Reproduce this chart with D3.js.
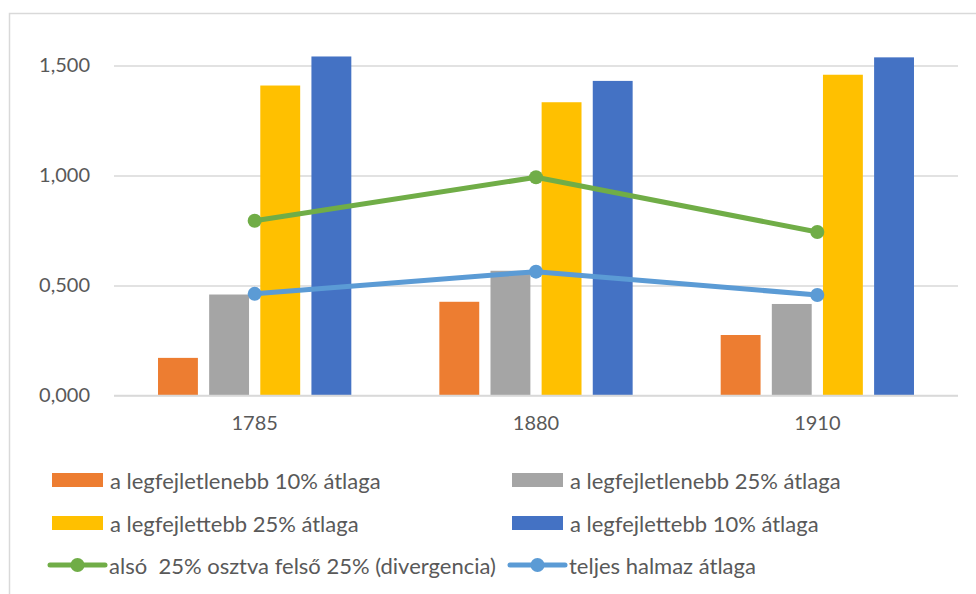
<!DOCTYPE html>
<html>
<head>
<meta charset="utf-8">
<script src="https://cdn.jsdelivr.net/npm/d3@7"></script>
<style>
  html, body { margin: 0; padding: 0; background: #fff; }
  svg { display: block; font-family: Lato, "Open Sans", sans-serif; }
  .legend text { white-space: pre; }
</style>
</head>
<body>
<svg id="chart" width="976" height="594"></svg>
<script>
// Categories (years)
const years = ["1785", "1880", "1910"];

// Bar series
const barNames = [
  "a legfejletlenebb 10% átlaga",
  "a legfejletlenebb 25% átlaga",
  "a legfejlettebb 25% átlaga",
  "a legfejlettebb 10% átlaga"
];
const bottom10 = [0.171, 0.426, 0.275];
const bottom25 = [0.459, 0.567, 0.416];
const top25    = [1.409, 1.333, 1.458];
const top10    = [1.541, 1.430, 1.537];
const barColors = ["#ED7D31", "#A5A5A5", "#FFC000", "#4472C4"];

// Line series
const lineNames = [
  "alsó  25% osztva felső 25% (divergencia)",
  "teljes halmaz átlaga"
];
const divergence = [0.794, 0.992, 0.743];
const overallAvg = [0.462, 0.563, 0.457];
const lineColors = ["#70AD47", "#5B9BD5"];

// Y axis ticks
const yTicks = [0, 0.5, 1.0, 1.5];

const barValues = [bottom10, bottom25, top25, top10];
const lineValues = [divergence, overallAvg];

const svg = d3.select("#chart");
const plot = { left: 114, right: 958, top: 65.5, bottom: 395.5 };
const textColor = "#595959";
const gridColor = "#D9D9D9";

// Hungarian-style number format: decimal comma, three decimals
const huLocale = d3.formatLocale({ decimal: ",", thousands: " ", grouping: [3], currency: ["", " Ft"] });
const fmt = huLocale.format(".3f");

// Outer chart frame
svg.append("rect")
  .attr("x", 9.5).attr("y", 13.5)
  .attr("width", 1000).attr("height", 700)
  .attr("fill", "none")
  .attr("stroke", gridColor)
  .attr("stroke-width", 1.5);

const x0 = d3.scaleBand().domain(years).range([plot.left, plot.right]).padding(0);
const groupWidth = 193.3;
const x1 = d3.scaleBand().domain(d3.range(barNames.length))
  .range([0, groupWidth]).paddingInner(0.22).paddingOuter(0);
const y = d3.scaleLinear().domain([0, 1.5]).range([plot.bottom, plot.top]);

const groupLeft = c => x0(c) + (x0.bandwidth() - groupWidth) / 2;
const cx = c => x0(c) + x0.bandwidth() / 2;

// Gridlines + y axis labels
const yAxis = d3.axisLeft(y).tickValues(yTicks).tickFormat(fmt)
  .tickSize(-(plot.right - plot.left)).tickPadding(24);
const yg = svg.append("g").attr("transform", `translate(${plot.left},0)`).call(yAxis);
yg.select(".domain").remove();
yg.selectAll(".tick line").attr("stroke", gridColor).attr("stroke-width", 1.5);
yg.selectAll(".tick text")
  .attr("fill", textColor)
  .style("font-size", "20px")
  .style("font-family", "Lato, sans-serif");

// X axis labels
const xAxis = d3.axisBottom(x0).tickSize(0).tickPadding(20);
const xg = svg.append("g").attr("transform", `translate(0,${plot.bottom})`).call(xAxis);
xg.select(".domain").remove();
xg.selectAll(".tick text")
  .attr("fill", textColor)
  .style("font-size", "20px")
  .style("font-family", "Lato, sans-serif");

// Bars
barValues.forEach((vals, si) => {
  svg.append("g").selectAll("rect")
    .data(years.map((c, i) => ({ c, v: vals[i] })))
    .join("rect")
    .attr("x", d => groupLeft(d.c) + x1(si))
    .attr("width", x1.bandwidth())
    .attr("y", d => y(d.v))
    .attr("height", d => y(0) - y(d.v))
    .attr("fill", barColors[si]);
});

// Baseline over bars
svg.append("line")
  .attr("x1", plot.left).attr("x2", plot.right)
  .attr("y1", y(0)).attr("y2", y(0))
  .attr("stroke", gridColor).attr("stroke-width", 1.5);

// Lines with circle markers
const line = d3.line().x(d => cx(d.c)).y(d => y(d.v));
lineValues.forEach((vals, li) => {
  const pts = years.map((c, i) => ({ c, v: vals[i] }));
  svg.append("path")
    .datum(pts)
    .attr("d", line)
    .attr("fill", "none")
    .attr("stroke", lineColors[li])
    .attr("stroke-width", 5)
    .attr("stroke-linejoin", "round")
    .attr("stroke-linecap", "round");
  svg.append("g").selectAll("circle")
    .data(pts)
    .join("circle")
    .attr("cx", d => cx(d.c))
    .attr("cy", d => y(d.v))
    .attr("r", 7)
    .attr("fill", lineColors[li]);
});

// Legend
const legendCols = [52, 512];
const legendRows = [480, 523, 565];
const legend = svg.append("g")
  .attr("class", "legend")
  .style("font-size", "22px")
  .attr("fill", textColor);

barNames.forEach((name, i) => {
  const lx = legendCols[i % 2], ly = legendRows[Math.floor(i / 2)];
  legend.append("rect")
    .attr("x", lx).attr("y", ly - 7)
    .attr("width", 51).attr("height", 14)
    .attr("fill", barColors[i]);
  legend.append("text")
    .attr("x", lx + 58).attr("y", ly)
    .attr("dominant-baseline", "central")
    .attr("xml:space", "preserve")
    .text(name);
});

lineNames.forEach((name, i) => {
  const lx = legendCols[i] - 2, ly = legendRows[2];
  legend.append("line")
    .attr("x1", lx).attr("x2", lx + 55)
    .attr("y1", ly).attr("y2", ly)
    .attr("stroke", lineColors[i])
    .attr("stroke-width", 5)
    .attr("stroke-linecap", "round");
  legend.append("circle")
    .attr("cx", lx + 27.5).attr("cy", ly).attr("r", 7)
    .attr("fill", lineColors[i]);
  legend.append("text")
    .attr("x", lx + 59).attr("y", ly)
    .attr("dominant-baseline", "central")
    .attr("xml:space", "preserve")
    .text(name);
});
</script>
</body>
</html>
